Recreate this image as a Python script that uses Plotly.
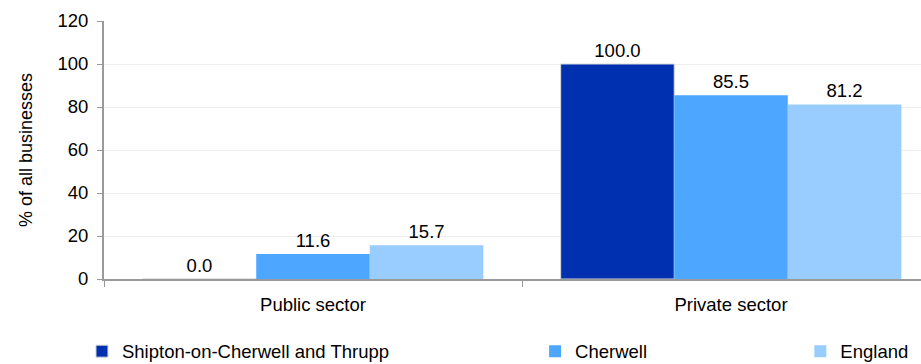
import plotly.graph_objects as go

categories = ["Public sector", "Private sector"]
shipton = [0.0, 100.0]
cherwell = [11.6, 85.5]
england = [15.7, 81.2]

series = [
    ("Shipton-on-Cherwell and Thrupp", shipton, "#0030B0", "legend"),
    ("Cherwell", cherwell, "#4DA6FF", "legend2"),
    ("England", england, "#99CCFF", "legend3"),
]

FONT = "Liberation Sans, Arial, sans-serif"
FS = 18.5

fig = go.Figure()
for name, vals, color, leg in series:
    fig.add_trace(go.Bar(
        x=categories, y=vals, name=name,
        marker=dict(color=color,
                    line=dict(width=1 if name.startswith("Shipton") else 0, color="#d8d8d8")),
        text=[f"{v:.1f}" for v in vals],
        textposition="outside",
        textfont=dict(size=FS, color="#000000"),
        cliponaxis=False,
        legend=leg,
    ))

# legends placed in container coords so they don't push the plot margins
leg_common = dict(orientation="h", xref="container", yref="container",
                  yanchor="middle", y=0.034, xanchor="left",
                  font=dict(size=FS, color="#000000"), bgcolor="rgba(0,0,0,0)")

fig.update_layout(
    width=921, height=364,
    margin=dict(l=104, r=0, t=21, b=85),
    paper_bgcolor="white", plot_bgcolor="white",
    font=dict(family=FONT, size=FS, color="#000000"),
    barmode="group", bargap=0.185, bargroupgap=0,
    showlegend=True,
    legend=dict(x=0.089, **leg_common),
    legend2=dict(x=0.581, **leg_common),
    legend3=dict(x=0.869, **leg_common),
    xaxis=dict(range=[-0.5, 1.4545], showline=True, linecolor="#999999", linewidth=2,
               ticks="outside", tickson="boundaries", ticklen=6, tickcolor="#999999",
               ticklabelstandoff=8, tickfont=dict(size=FS), showgrid=False,
               automargin="bottom"),
    yaxis=dict(range=[0, 120], dtick=20, showline=True, linecolor="#999999", linewidth=2,
               ticks="outside", ticklen=5, tickcolor="#999999", gridcolor="#eeeeee",
               ticklabelstandoff=5, zeroline=False, tickfont=dict(size=FS),
               automargin="left",
               title=dict(text="% of all businesses", font=dict(size=18), standoff=20)),
)

# drop the default 8px page margin so the figure fills the window exactly
fig.write_html("out.html", config={"displayModeBar": False},
               post_script="document.body.style.margin='0';document.body.style.overflow='hidden';")
